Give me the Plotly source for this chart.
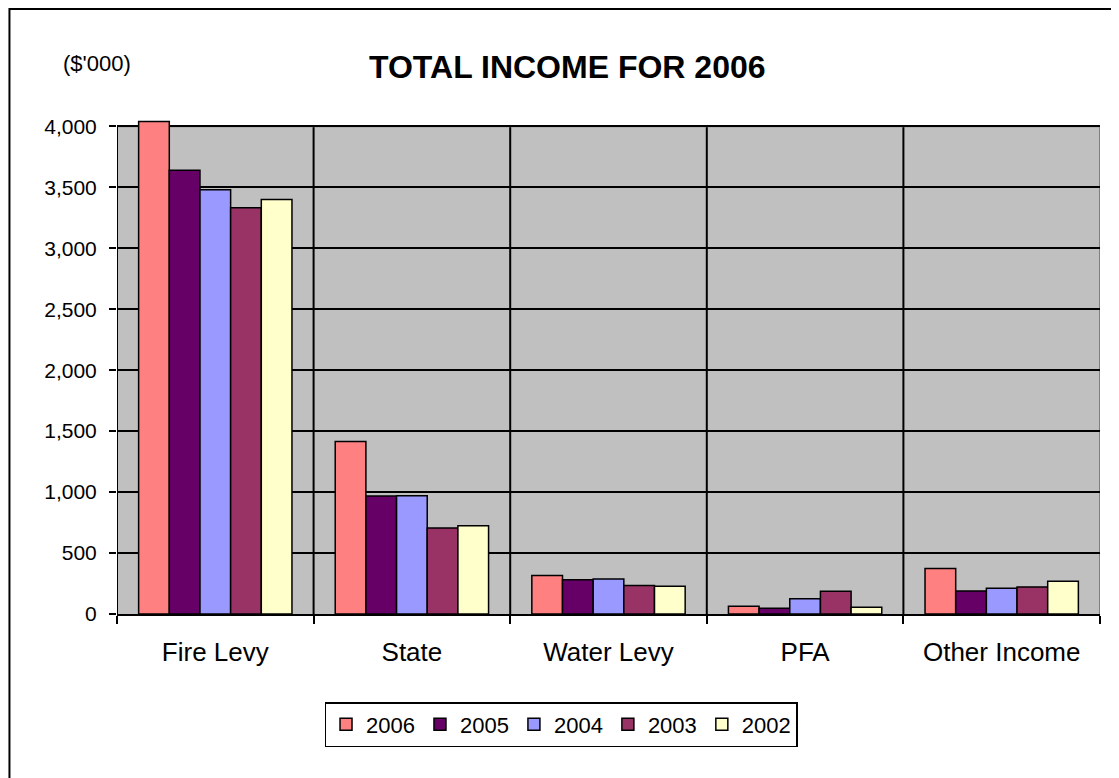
import plotly.graph_objects as go

categories = ["Fire Levy", "State", "Water Levy", "PFA", "Other Income"]
years = ["2006", "2005", "2004", "2003", "2002"]
v2006 = [4040, 1415, 315, 63, 373]
v2005 = [3640, 968, 280, 47, 189]
v2004 = [3480, 970, 288, 125, 211]
v2003 = [3332, 705, 233, 187, 222]
v2002 = [3400, 724, 228, 55, 269]
series = [v2006, v2005, v2004, v2003, v2002]
colors = ["#FF8080", "#660066", "#9999FF", "#993366", "#FFFFCC"]
ytick_vals = [0, 500, 1000, 1500, 2000, 2500, 3000, 3500, 4000]
ytick_text = ["0", "500", "1,000", "1,500", "2,000", "2,500", "3,000", "3,500", "4,000"]

FONT = "Liberation Sans, Arial, sans-serif"

fig = go.Figure()
for name, vals, col in zip(years, series, colors):
    fig.add_trace(go.Bar(
        x=categories, y=vals, name=name,
        marker=dict(color=col, line=dict(color="black", width=1.5)),
    ))

ymax = 4000
shapes = []
shapes.append(dict(type="rect", xref="x", yref="y", x0=-0.5, x1=4.5, y0=0, y1=ymax,
                   fillcolor="#C0C0C0", line=dict(width=0), layer="below"))
for i in range(len(categories) - 1):
    shapes.append(dict(type="line", xref="x", yref="y", x0=i + 0.5, x1=i + 0.5, y0=0, y1=ymax,
                       line=dict(color="black", width=2), layer="below"))
shapes.append(dict(type="line", xref="x", yref="y", x0=-0.5, x1=4.5, y0=ymax, y1=ymax,
                   line=dict(color="#808080", width=2), layer="below"))
shapes.append(dict(type="line", xref="x", yref="y", x0=4.5, x1=4.5, y0=0, y1=ymax,
                   line=dict(color="#808080", width=2), layer="below"))
shapes.append(dict(type="line", xref="x", yref="y", x0=-0.5, x1=-0.5, y0=0, y1=ymax,
                   line=dict(color="black", width=2), layer="above"))
shapes.append(dict(type="rect", xref="paper", yref="paper", x0=-0.1094, x1=1.05, y0=-0.4, y1=1.2222,
                   line=dict(color="black", width=2), fillcolor="rgba(0,0,0,0)", layer="above"))

fig.update_layout(
    width=1111, height=770,
    margin=dict(l=109, r=19, t=111, b=164),
    paper_bgcolor="white", plot_bgcolor="white",
    font=dict(family=FONT, color="black"),
    barmode="group", bargap=0.22, bargroupgap=0,
    shapes=shapes,
    showlegend=True,
    legend=dict(orientation="h", x=0.4517, xanchor="center", y=-0.1778, yanchor="top",
                bordercolor="black", borderwidth=1.5, font=dict(size=22, family=FONT),
                itemwidth=30, tracegroupgap=0),
    annotations=[
        dict(text="<b>TOTAL INCOME FOR 2006</b>", xref="paper", yref="paper", x=0.4578, y=1.105,
             xanchor="center", yanchor="middle", showarrow=False, font=dict(size=32, family=FONT)),
        dict(text="($'000)", xref="paper", yref="paper", x=-0.0203, y=1.113,
             xanchor="center", yanchor="middle", showarrow=False, font=dict(size=22, family=FONT)),
    ],
)
fig.update_xaxes(
    type="category", range=[-0.5, 4.5], tickson="boundaries",
    showgrid=False, showline=True, linecolor="black", linewidth=2,
    ticks="outside", ticklen=8, tickwidth=2, tickcolor="black",
    tickfont=dict(size=26, family=FONT), ticklabelstandoff=14,
)
fig.update_yaxes(
    range=[0, 4060], tickvals=ytick_vals, ticktext=ytick_text,
    showgrid=True, gridcolor="black", gridwidth=2, zeroline=False, showline=False,
    ticks="outside", ticklen=7, tickwidth=2, tickcolor="black",
    tickfont=dict(size=21, family=FONT), ticklabelstandoff=8,
)

fig.write_html("out.html")
